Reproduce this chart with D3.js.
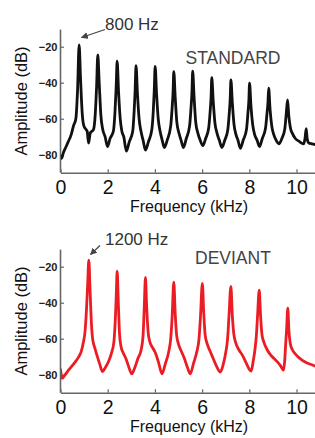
<!DOCTYPE html>
<html>
<head>
<meta charset="utf-8">
<script src="https://cdn.jsdelivr.net/npm/d3@7/dist/d3.min.js"></script>
<style>
html,body{margin:0;padding:0;background:#fff;}
svg{display:block;font-family:"Liberation Sans",Arial,sans-serif;}
</style>
</head>
<body>
<svg id="chart" width="315" height="438"></svg>
<script>
// ---- data ----
const xTicks = [0, 2, 4, 6, 8, 10];
const yTicks = [-20, -40, -60, -80];

const stdFreq = [0.00,0.05,0.12,0.22,0.32,0.45,0.55,0.65,0.72,0.79,0.85,0.92,0.99,1.08,1.13,1.19,1.26,1.40,1.47,1.53,1.58,1.64,1.71,1.79,1.89,1.99,2.10,2.24,2.31,2.36,2.40,2.46,2.53,2.60,2.68,2.79,2.91,3.06,3.12,3.16,3.20,3.26,3.33,3.41,3.50,3.60,3.72,3.87,3.93,3.97,4.01,4.07,4.14,4.22,4.31,4.40,4.52,4.67,4.73,4.77,4.80,4.86,4.93,5.02,5.11,5.21,5.33,5.47,5.53,5.57,5.60,5.66,5.73,5.82,5.92,6.03,6.15,6.28,6.34,6.38,6.41,6.47,6.54,6.63,6.73,6.84,6.96,7.09,7.15,7.19,7.22,7.28,7.35,7.44,7.52,7.62,7.74,7.88,7.94,7.98,8.01,8.07,8.14,8.23,8.33,8.43,8.55,8.69,8.75,8.79,8.82,8.88,8.95,9.04,9.14,9.25,9.38,9.50,9.56,9.62,9.67,9.74,9.82,9.95,10.10,10.30,10.36,10.41,10.45,10.52,10.65,10.85];
const stdAmp = [-81,-82,-79,-76,-73,-69,-64,-60,-45,-19,-38,-57,-64,-66,-67,-73.5,-68,-66,-58,-42,-24.5,-40,-58,-66,-70,-75.5,-71,-67,-56,-42,-28,-45,-60,-67,-70,-78,-73,-67,-56,-45,-30.5,-46,-60,-67,-72,-77.5,-73,-66,-56,-45,-31,-46,-60,-67,-72,-76,-72,-64,-54,-45,-33.8,-48,-62,-68,-72,-76,-71,-64,-54,-45,-33.6,-48,-62,-68,-72,-75,-71,-65,-56,-48,-37.2,-50,-62,-68,-72,-76,-72,-66,-57,-49,-38.4,-51,-63,-69,-72,-76.5,-72,-66,-57,-50,-40.2,-53,-63,-69,-72,-75.5,-71,-65,-57,-51,-43,-55,-64,-69,-72,-74,-71,-66,-58,-49.5,-58,-65,-68,-71,-72.5,-74,-71,-65.5,-71,-73.5,-74,-74.5];

const devFreq = [0.00,0.03,0.07,0.20,0.34,0.50,0.62,0.75,0.88,0.97,1.04,1.10,1.15,1.20,1.25,1.30,1.36,1.45,1.54,1.66,1.78,1.90,2.03,2.16,2.26,2.32,2.36,2.40,2.45,2.50,2.56,2.66,2.77,2.90,3.02,3.15,3.28,3.42,3.50,3.55,3.60,3.65,3.71,3.77,3.90,4.01,4.15,4.30,4.44,4.58,4.67,4.73,4.80,4.86,4.92,5.00,5.12,5.25,5.38,5.50,5.63,5.78,5.87,5.93,6.01,6.07,6.13,6.22,6.34,6.47,6.60,6.77,6.90,7.01,7.08,7.14,7.22,7.28,7.34,7.42,7.55,7.70,7.85,8.00,8.08,8.17,8.24,8.30,8.35,8.42,8.48,8.54,8.62,8.75,8.90,9.05,9.20,9.32,9.45,9.50,9.54,9.58,9.63,9.68,9.74,9.82,9.95,10.10,10.25,10.45,10.65,10.85];
const devAmp = [-77,-80,-82,-80,-77.5,-75,-73,-70.5,-67,-62,-56,-44,-30,-16.3,-32,-49,-60,-65,-69,-74,-78.3,-76,-72.8,-68,-62,-50,-37,-22.5,-40,-57,-64,-68,-71,-76,-79.5,-76,-71,-66,-58,-42,-26,-42,-56,-61,-65,-67.5,-73,-79.5,-74,-67.5,-60,-48,-28.6,-46,-58,-63,-67,-71,-76,-79.5,-74,-67,-60,-48,-29.3,-46,-58,-63,-67,-71,-75,-78.5,-74,-67,-60,-47,-31,-47,-57,-62,-66,-69,-73,-77,-78,-72,-66,-58,-47,-33,-48,-58,-62,-66,-69,-71,-73,-75,-77.5,-72,-63,-55,-43,-56,-63,-66,-68.5,-70.5,-72,-73.5,-74.5,-75.5];

// ---- drawing ----
const svg = d3.select("#chart");
const FONT = '"Liberation Sans",Arial,sans-serif';

svg.append("defs").append("marker")
  .attr("id","arrow").attr("viewBox","0 0 10 10")
  .attr("refX",9).attr("refY",5)
  .attr("markerWidth",7).attr("markerHeight",7)
  .attr("markerUnits","userSpaceOnUse")
  .attr("orient","auto")
  .append("path").attr("d","M0,0 L10,5 L0,10 Z").attr("fill","#444");

const x = d3.scaleLinear().domain([0, 10.8]).range([60.5, 315.4]);

function panel(off, freq, amp, color, label, labelPos, annot, arrowFrom, arrowTo) {
  const y = d3.scaleLinear().domain([-90, -10]).range([172.7 + off, 28.7 + off]);
  const g = svg.append("g");
  const axisColor = "#666";

  // x axis
  const xa = g.append("g").attr("transform", `translate(0,${172.7 + off})`)
    .call(d3.axisBottom(x).tickValues(xTicks).tickSize(-3.5).tickSizeOuter(0).tickPadding(6).tickFormat(d3.format("d")));
  xa.select(".domain").attr("stroke", axisColor).attr("stroke-width", 1.6);
  xa.selectAll(".tick line").attr("stroke", axisColor).attr("stroke-width", 1.2);
  xa.selectAll(".tick text").attr("font-family", FONT).attr("font-size", 19.5).attr("fill", "#111")
    .attr("y", 0).attr("dy", 21);

  // y axis
  const ya = g.append("g").attr("transform", `translate(60.5,0)`)
    .call(d3.axisLeft(y).tickValues(yTicks).tickSize(-3.5).tickSizeOuter(0).tickPadding(3).tickFormat(d3.format("d")));
  ya.select(".domain").attr("stroke", axisColor).attr("stroke-width", 1.6);
  ya.selectAll(".tick line").attr("stroke", axisColor).attr("stroke-width", 1.2);
  ya.selectAll(".tick text").attr("font-family", FONT).attr("font-size", 11).attr("font-weight", "bold")
    .attr("fill", "#222").attr("x", -3);
  ya.select(".domain").attr("d", `M0,${y(-10.5)}V${y(-90)}`);

  // clip
  const cid = "clip" + off;
  svg.select("defs").append("clipPath").attr("id", cid)
    .append("rect").attr("x", 61).attr("y", 20 + off).attr("width", 260).attr("height", 152);

  const line = d3.line().x((d, i) => x(freq[i])).y((d, i) => y(amp[i])).curve(d3.curveMonotoneX);
  g.append("path").datum(freq).attr("d", line)
    .attr("clip-path", `url(#${cid})`)
    .attr("fill", "none").attr("stroke", color).attr("stroke-width", 2.8)
    .attr("stroke-linejoin", "round").attr("stroke-linecap", "round");

  // axis titles
  g.append("text").attr("x", 189).attr("y", 211.5 + off).attr("text-anchor", "middle")
    .attr("font-family", FONT).attr("font-size", 16).attr("fill", "#111").text("Frequency (kHz)");
  g.append("text").attr("transform", `translate(27,${101 + off}) rotate(-90)`).attr("text-anchor", "middle")
    .attr("font-family", FONT).attr("font-size", 16.5).attr("fill", "#111").text("Amplitude (dB)");

  // label
  g.append("text").attr("x", labelPos[0]).attr("y", labelPos[1] + off)
    .attr("font-family", FONT).attr("font-size", 17.5).attr("fill", "#444").text(label);

  // annotation
  g.append("text").attr("x", annot[0]).attr("y", annot[1] + off)
    .attr("font-family", FONT).attr("font-size", 17).attr("fill", "#333").text(annot[2]);
  g.append("line").attr("x1", arrowFrom[0]).attr("y1", arrowFrom[1] + off)
    .attr("x2", arrowTo[0]).attr("y2", arrowTo[1] + off)
    .attr("stroke", "#444").attr("stroke-width", 1.2).attr("marker-end", "url(#arrow)");
}

panel(0, stdFreq, stdAmp, "#111", "STANDARD", [185.5, 63.5], [105, 30, "800 Hz"], [105, 29.5], [81.5, 37.5]);
panel(220, devFreq, devAmp, "#ec1c24", "DEVIANT", [195, 43.5], [105, 25, "1200 Hz"], [100, 25.5], [90.5, 34.5]);
</script>
</body>
</html>
